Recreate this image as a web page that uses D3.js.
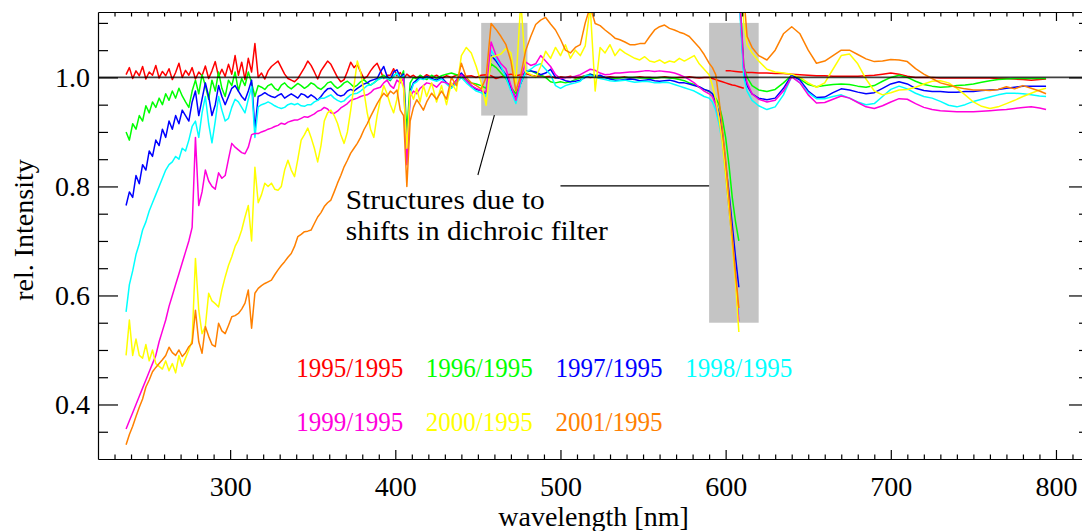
<!DOCTYPE html>
<html>
<head>
<meta charset="utf-8">
<script src="https://cdn.jsdelivr.net/npm/d3@7"></script>
<style>
  html, body { margin: 0; padding: 0; background: #fff; }
  svg { display: block; }
  text { font-family: "Liberation Serif", "Times New Roman", Times, serif; }
</style>
</head>
<body>
<svg id="chart" width="1082" height="531"></svg>
<script>
// Wavelength sampling (nm) for the UV/visible channel, up to the filter edge
const wavelengthA = [
  237,239,241,243,245,247,249,251,253,255,
  257,259,261,263,265,267,269,271,273,275,
  277,279,281,283,285,287,289,291,293,295,
  297,299,301,303,305,307,309,311,313,315,
  317,319,321,323,325,327,329,331,333,335,
  337,339,341,343,345,347,349,351,353,355,
  357,359,361,363,365,367,369,371,373,375,
  377,379,381,383,385,387,389,391,393,395,
  397,399,401,403,405,407,409,411,413,415,
  417,419,422,425,428,431,434,437,440,443,
  446,449,452,455,458,461,464,467,470,473,
  476,479,482,485,488,491,494,497,500,503,
  506,509,512,515,518,521,524,527,530,533,
  536,539,542,545,548,551,554,557,560,563,
  566,569,572,575,578,581,584,587,590,592,
  594,596,598,600,602,604,606,608,611
];

// Wavelength sampling (nm) for the red channel, beyond the dichroic filter
const wavelengthB = [
  600,603,606,609,611,613,616,620,
  625,630,635,640,645,650,655,660,665,670,
  675,680,685,690,695,700,705,710,715,720,
  725,730,735,740,745,750,755,760,765,770,
  775,780,785,790,794
];

// Ratio 1995/1995
const ratio1995A = [
  1.005,1.018,0.998,1.012,1.003,1.020,0.997,1.010,1.004,1.022,
  0.999,1.011,1.003,1.016,0.996,1.009,1.026,1.000,1.013,1.004,
  1.018,0.997,1.010,1.003,1.021,0.998,1.012,1.029,1.001,1.015,
  1.002,1.024,1.006,1.040,1.004,1.028,0.996,1.035,1.010,1.062,
  1.000,1.008,0.997,1.012,1.020,1.025,1.030,1.018,1.006,0.998,
  0.995,0.992,0.998,1.008,1.018,1.030,1.022,1.010,0.997,1.012,
  1.021,1.030,1.024,1.012,1.000,0.992,0.996,1.011,1.028,1.018,
  1.024,1.010,0.998,1.002,1.012,1.020,1.026,1.012,0.998,1.004,
  1.004,1.016,1.003,1.009,0.998,1.006,1.001,1.004,0.999,1.003,
  1.000,1.005,1.000,1.004,0.998,1.003,1.000,1.004,1.006,1.002,
  1.003,1.000,1.004,1.005,1.003,0.998,1.001,1.004,1.006,1.003,
  1.005,1.007,1.004,1.002,1.003,1.001,1.002,0.999,1.001,1.000,
  1.002,0.999,1.001,1.003,1.000,1.001,0.999,1.000,1.001,1.000,
  1.000,1.001,0.999,1.000,1.001,1.000,1.000,0.999,1.000,1.001,
  1.000,0.999,1.000,1.000,1.001,1.000,0.999,1.000,1.000,0.998,
  0.996,0.994,0.992,0.990,0.988,0.986,0.985,0.983,0.980
];
const ratio1995B = [
  1.012,1.012,1.011,1.010,1.010,1.009,1.009,1.008,
  1.008,1.007,1.007,1.006,1.005,1.004,1.003,1.003,1.002,1.002,
  1.002,1.002,1.003,1.004,1.006,1.008,1.006,1.002,1.000,1.000,
  1.000,0.999,0.999,0.999,0.999,0.999,0.999,0.999,0.998,0.998,
  0.997,0.996,0.995,0.996,0.997
];

// Ratio 1996/1995
const ratio1996A = [
  0.900,0.885,0.915,0.905,0.930,0.920,0.948,0.935,0.955,0.945,
  0.962,0.950,0.970,0.958,0.975,0.962,0.980,0.966,0.955,0.945,
  0.975,0.995,0.970,1.005,0.985,0.960,0.995,0.975,1.010,0.980,
  0.965,0.995,0.985,1.010,0.975,0.998,0.985,1.010,0.990,0.965,
  0.985,0.982,0.978,0.985,0.988,0.980,0.976,0.986,0.990,0.983,
  0.979,0.984,0.989,0.985,0.980,0.984,0.990,0.987,0.981,0.978,
  0.983,0.990,0.992,0.985,0.980,0.984,0.990,0.993,0.988,0.982,
  0.986,0.992,0.996,0.990,0.986,0.990,0.995,1.000,1.004,0.998,
  0.994,1.003,1.008,0.997,1.012,0.900,0.990,1.000,0.997,1.004,
  1.000,0.996,1.004,0.998,1.003,1.006,1.008,1.005,1.000,0.995,
  0.990,0.988,0.985,0.980,1.025,1.018,1.008,0.998,0.982,0.970,
  0.990,1.010,1.012,1.008,1.004,1.000,0.992,0.990,0.992,0.990,
  0.992,0.996,0.999,1.003,1.006,1.004,1.002,1.000,0.998,0.998,
  0.999,1.000,1.000,1.000,0.999,0.999,0.998,0.999,1.000,1.000,
  0.999,0.998,0.996,0.994,0.990,0.987,0.982,0.978,0.974,0.970,
  0.962,0.950,0.925,0.890,0.840,0.780,0.735,0.700,null
];
const ratio1996B = [
  null,null,1.420,1.130,1.020,1.000,0.985,0.977,
  0.974,0.978,0.990,1.004,0.997,0.987,0.983,0.985,0.987,0.988,
  0.987,0.984,0.982,0.985,0.993,1.000,1.004,1.000,0.993,0.987,
  0.984,0.982,0.983,0.985,0.986,0.988,0.991,0.994,0.996,0.997,
  0.998,0.998,0.998,0.998,0.998
];

// Ratio 1997/1995
const ratio1997A = [
  0.765,0.790,0.780,0.820,0.805,0.840,0.830,0.865,0.855,0.885,
  0.875,0.905,0.890,0.920,0.905,0.930,0.915,0.940,0.930,0.920,
  0.955,0.975,0.930,0.960,0.990,0.965,0.930,0.950,0.985,0.965,
  0.950,0.965,0.980,0.985,0.975,0.965,0.958,0.975,0.995,0.905,
  0.965,0.968,0.972,0.968,0.965,0.963,0.967,0.970,0.962,0.966,
  0.970,0.966,0.962,0.970,0.968,0.963,0.968,0.964,0.958,0.965,
  0.973,0.979,0.980,0.974,0.968,0.966,0.968,0.975,0.978,0.975,
  0.980,0.984,0.988,0.990,0.994,0.996,0.998,1.010,1.020,1.002,
  0.996,1.010,1.014,1.000,1.006,0.860,0.975,0.990,0.995,1.000,
  0.997,1.002,0.998,0.995,1.000,0.990,0.983,0.995,1.008,0.995,
  0.985,0.978,0.976,0.970,1.040,1.030,1.017,1.005,0.980,0.962,
  0.990,1.012,1.012,1.010,1.005,1.008,1.015,1.000,0.998,0.994,
  0.992,0.993,0.995,1.000,1.006,1.002,1.004,1.000,0.997,0.995,
  0.995,0.996,0.997,0.996,0.994,0.995,0.996,0.994,0.993,0.994,
  0.995,0.993,0.990,0.990,0.988,0.985,0.983,0.978,0.975,0.970,
  0.955,0.935,0.900,0.840,0.790,0.730,0.670,0.615,null
];
const ratio1997B = [
  null,null,1.380,1.110,1.010,0.985,0.970,0.962,
  0.959,0.962,0.980,1.004,0.995,0.975,0.963,0.964,0.972,0.979,
  0.977,0.973,0.970,0.972,0.980,0.988,0.992,0.988,0.980,0.976,
  0.974,0.974,0.973,0.973,0.974,0.974,0.976,0.977,0.978,0.980,
  0.982,0.984,0.984,0.984,0.984
];

// Ratio 1998/1995
const ratio1998A = [
  0.570,0.620,0.645,0.675,0.695,0.720,0.735,0.755,0.770,0.785,
  0.800,0.815,0.830,0.840,0.845,0.855,0.850,0.870,0.865,0.885,
  0.910,0.920,0.890,0.935,0.965,0.915,0.880,0.920,0.965,0.940,
  0.920,0.925,0.945,0.960,0.955,0.945,0.935,0.960,0.983,0.890,
  0.946,0.950,0.952,0.955,0.952,0.948,0.945,0.943,0.945,0.950,
  0.952,0.950,0.952,0.948,0.947,0.950,0.950,0.955,0.958,0.962,
  0.962,0.965,0.968,0.962,0.958,0.955,0.957,0.963,0.968,0.970,
  0.971,0.975,0.980,0.985,0.986,0.990,0.995,0.998,1.000,0.998,
  0.996,1.002,1.008,0.998,1.003,0.845,0.970,0.988,0.992,0.998,
  0.996,1.000,0.996,0.993,0.997,0.988,0.980,0.990,1.000,0.990,
  0.982,0.975,0.972,0.965,1.050,1.035,1.020,1.000,0.975,0.952,
  0.990,1.010,1.015,1.022,1.025,1.015,1.005,0.985,0.980,0.985,
  0.988,0.990,0.993,1.003,1.004,1.000,0.998,0.996,0.994,0.993,
  0.994,0.995,0.993,0.991,0.992,0.993,0.992,0.990,0.990,0.991,
  0.990,0.987,0.984,0.981,0.978,0.975,0.970,0.965,0.962,0.955,
  0.940,0.915,0.880,0.820,0.760,0.700,0.635,0.565,null
];
const ratio1998B = [
  null,null,1.350,1.100,1.000,0.975,0.958,0.948,
  0.941,0.946,0.968,1.002,0.990,0.972,0.961,0.961,0.965,0.968,
  0.962,0.955,0.950,0.952,0.965,0.978,0.984,0.979,0.971,0.965,
  0.962,0.956,0.949,0.946,0.950,0.956,0.960,0.964,0.968,0.971,
  0.971,0.970,0.968,0.966,0.965
];

// Ratio 1999/1995
const ratio1999A = [
  0.355,0.370,0.385,0.400,0.415,0.430,0.445,0.460,0.475,0.490,
  0.515,0.535,0.555,0.580,0.600,0.620,0.640,0.660,0.680,0.700,
  0.725,0.890,0.765,0.790,0.830,0.810,0.800,0.795,0.825,0.815,
  0.820,0.850,0.879,0.872,0.867,0.862,0.860,0.872,0.895,0.897,
  0.897,0.900,0.902,0.905,0.907,0.910,0.912,0.916,0.914,0.918,
  0.920,0.922,0.922,0.925,0.928,0.927,0.930,0.933,0.938,0.940,
  0.945,0.942,0.935,0.934,0.938,0.944,0.948,0.952,0.958,0.960,
  0.962,0.965,0.967,0.968,0.972,0.978,0.980,0.982,0.990,0.995,
  0.985,0.980,0.995,0.990,0.998,0.840,0.965,0.975,0.970,0.980,
  0.985,0.990,0.988,0.982,0.992,0.990,0.985,0.995,1.005,0.995,
  0.985,0.980,0.976,0.973,1.065,1.040,1.025,1.016,0.985,0.958,
  0.998,1.028,1.022,1.025,1.040,1.030,1.020,1.005,0.998,1.000,
  1.000,1.002,1.005,1.010,1.015,1.013,1.008,1.005,1.006,1.008,
  1.008,1.009,1.010,1.010,1.011,1.012,1.012,1.011,1.012,1.011,
  1.010,1.008,1.005,1.001,0.996,0.990,0.982,0.975,0.970,0.965,
  0.950,0.925,0.885,0.825,0.760,0.700,0.635,0.552,null
];
const ratio1999B = [
  null,null,1.400,1.120,1.020,0.990,0.970,0.960,
  0.955,0.958,0.975,1.001,0.990,0.968,0.953,0.954,0.960,0.966,
  0.962,0.954,0.946,0.943,0.948,0.955,0.961,0.960,0.952,0.945,
  0.941,0.939,0.938,0.937,0.937,0.937,0.938,0.939,0.940,0.941,
  0.943,0.945,0.946,0.944,0.941
];

// Ratio 2000/1995
const ratio2000A = [
  0.490,0.555,0.490,0.520,0.490,0.485,0.510,0.480,0.500,0.475,
  0.470,0.465,0.480,0.462,0.475,0.458,0.490,0.470,0.485,0.500,
  0.518,0.668,0.573,0.530,0.543,0.604,0.590,0.585,0.579,0.610,
  0.634,0.655,0.671,0.690,0.702,0.720,0.744,0.765,0.700,0.835,
  0.770,0.785,0.806,0.800,0.806,0.795,0.793,0.800,0.830,0.848,
  0.830,0.818,0.850,0.885,0.895,0.907,0.890,0.870,0.845,0.875,
  0.920,0.935,0.940,0.930,0.916,0.895,0.879,0.900,0.940,0.985,
  1.030,1.010,0.975,0.935,0.905,0.890,0.930,0.960,0.985,0.970,
  0.950,0.935,0.960,1.000,0.980,0.870,0.975,0.960,0.980,0.955,
  0.985,0.965,0.990,0.955,0.985,0.950,0.990,0.975,1.040,1.055,
  1.045,1.020,0.990,0.949,1.037,1.040,1.043,1.053,1.045,0.988,
  1.140,1.010,1.005,1.000,1.020,1.048,1.035,1.055,1.040,1.060,
  1.035,1.050,1.040,1.058,1.130,0.975,1.055,1.045,1.060,1.040,
  1.052,1.045,1.040,1.035,1.032,1.038,1.030,1.028,1.032,1.026,
  1.030,1.028,1.035,1.030,1.035,1.040,1.025,1.015,1.005,0.985,
  0.960,0.925,0.880,0.820,0.760,0.695,0.625,0.533,null
];
const ratio2000B = [
  null,null,1.600,1.200,1.100,1.060,1.045,1.030,
  1.015,1.010,1.008,1.006,1.000,0.990,0.982,0.990,1.015,1.040,
  1.043,1.025,0.997,0.975,0.968,0.972,0.977,0.978,0.982,0.988,
  0.993,0.994,0.990,0.980,0.968,0.955,0.947,0.943,0.946,0.952,
  0.958,0.965,0.971,0.977,0.980
];

// Ratio 2001/1995
const ratio2001A = [
  0.326,0.345,0.360,0.378,0.395,0.410,0.432,0.445,0.460,0.468,
  0.475,0.482,0.490,0.505,0.495,0.490,0.500,0.488,0.495,0.506,
  0.512,0.573,0.515,0.494,0.543,0.525,0.510,0.506,0.549,0.535,
  0.530,0.545,0.561,0.563,0.567,0.575,0.586,0.610,0.540,0.604,
  0.613,0.618,0.622,0.625,0.628,0.638,0.647,0.655,0.662,0.670,
  0.677,0.690,0.708,0.712,0.717,0.718,0.720,0.732,0.744,0.752,
  0.763,0.770,0.775,0.790,0.806,0.820,0.836,0.848,0.861,0.870,
  0.879,0.890,0.904,0.915,0.928,0.940,0.952,0.962,0.971,0.965,
  0.975,0.970,0.977,0.940,0.930,0.800,0.920,0.945,0.959,0.950,
  0.940,0.955,0.971,0.960,0.975,0.960,1.000,0.985,1.026,1.000,
  0.990,0.985,0.979,1.000,1.099,1.088,1.075,1.060,1.030,0.975,
  1.005,1.050,1.075,1.097,1.105,1.110,1.098,1.087,1.070,1.050,
  1.045,1.055,1.060,1.100,1.130,1.099,1.095,1.087,1.080,1.072,
  1.069,1.065,1.060,1.060,1.062,1.062,1.075,1.087,1.093,1.096,
  1.090,1.087,1.083,1.080,1.075,1.065,1.055,1.042,1.026,1.018,
  1.005,0.960,0.905,0.850,0.780,0.710,0.640,0.577,null
];
const ratio2001B = [
  null,null,1.700,1.300,1.150,1.075,1.055,1.040,
  1.032,1.050,1.080,1.093,1.080,1.050,1.026,1.030,1.040,1.050,
  1.050,1.042,1.034,1.029,1.030,1.033,1.032,1.029,1.016,1.006,
  0.998,0.990,0.986,0.982,0.979,0.977,0.977,0.976,0.978,0.983,
  0.979,0.985,0.980,0.975,0.970
];

const seriesLabels = ["1995/1995", "1996/1995", "1997/1995", "1998/1995",
                      "1999/1995", "2000/1995", "2001/1995"];
const seriesColors = ["#ff0000", "#00ff00", "#0000ff", "#00ffff",
                      "#ff00dc", "#ffff00", "#ff8000"];
const seriesA = [ratio1995A, ratio1996A, ratio1997A, ratio1998A, ratio1999A, ratio2000A, ratio2001A];
const seriesB = [ratio1995B, ratio1996B, ratio1997B, ratio1998B, ratio1999B, ratio2000B, ratio2001B];

const xTickValues = [300, 400, 500, 600, 700, 800];
const yTickValues = [0.4, 0.6, 0.8, 1.0];

// Spectral ranges affected by the dichroic filter shift: [nm0, nm1, rel0, rel1]
const filterBands = [[452, 480, 0.93, 1.10], [590, 620, 0.55, 1.10]];

// ---------- layout ----------
const plot = { left: 98, right: 1089, top: 12, bottom: 459 };
const serif = '"Liberation Serif", "Times New Roman", Times, serif';

const svg = d3.select("#chart");
const x = d3.scaleLinear().domain([220, 820]).range([plot.left, plot.right]);
const y = d3.scaleLinear().domain([0.30, 1.12]).range([plot.bottom, plot.top]);

svg.append("defs").append("clipPath").attr("id", "plotClip")
  .append("rect")
  .attr("x", plot.left).attr("y", plot.top)
  .attr("width", plot.right - plot.left).attr("height", plot.bottom - plot.top);

const dataLayer = svg.append("g").attr("clip-path", "url(#plotClip)");

// shaded filter bands
dataLayer.selectAll("rect.band").data(filterBands).join("rect")
  .attr("class", "band")
  .attr("x", d => x(d[0])).attr("width", d => x(d[1]) - x(d[0]))
  .attr("y", d => y(d[3])).attr("height", d => y(d[2]) - y(d[3]))
  .attr("fill", "#c4c4c4");

// ratio curves
const line = d3.line()
  .defined(d => d[1] != null)
  .x(d => x(d[0]))
  .y(d => y(d[1]));

seriesLabels.forEach((label, i) => {
  [d3.zip(wavelengthA, seriesA[i]), d3.zip(wavelengthB, seriesB[i])].forEach(pts => {
    dataLayer.append("path")
      .datum(pts)
      .attr("d", line)
      .attr("fill", "none")
      .attr("stroke", seriesColors[i])
      .attr("stroke-width", 1.5)
      .attr("stroke-linejoin", "round");
  });
});

// unity reference line
dataLayer.append("line")
  .attr("x1", plot.left).attr("x2", plot.right)
  .attr("y1", y(1.0)).attr("y2", y(1.0))
  .attr("stroke", "#000").attr("stroke-opacity", 0.75).attr("stroke-width", 1.8);

// ---------- axes ----------
const minorX = d3.range(230, 821, 10).filter(v => v % 100 !== 0);
const minorY = [0.35, 0.45, 0.5, 0.55, 0.65, 0.7, 0.75, 0.85, 0.9, 0.95, 1.05, 1.1];

function styleAxis(g) {
  g.attr("font-family", serif).attr("font-size", 28).attr("color", "#000");
  g.selectAll("line, path").attr("stroke-width", 1.2);
}

// bottom
const gB = svg.append("g").attr("transform", `translate(0,${plot.bottom})`)
  .call(d3.axisBottom(x).tickValues(xTickValues).tickSizeInner(-9).tickSizeOuter(0)
        .tickFormat(d3.format("d")));
styleAxis(gB);
gB.selectAll("text").attr("y", 37).attr("dy", null);
const gBm = svg.append("g").attr("transform", `translate(0,${plot.bottom})`)
  .call(d3.axisBottom(x).tickValues(minorX).tickSize(-4.5).tickFormat(""));
gBm.select(".domain").remove(); styleAxis(gBm);

// top
const gT = svg.append("g").attr("transform", `translate(0,${plot.top})`)
  .call(d3.axisTop(x).tickValues(xTickValues).tickSizeInner(-9).tickSizeOuter(0).tickFormat(""));
styleAxis(gT);
const gTm = svg.append("g").attr("transform", `translate(0,${plot.top})`)
  .call(d3.axisTop(x).tickValues(minorX).tickSize(-4.5).tickFormat(""));
gTm.select(".domain").remove(); styleAxis(gTm);

// left
const gL = svg.append("g").attr("transform", `translate(${plot.left},0)`)
  .call(d3.axisLeft(y).tickValues(yTickValues).tickSizeInner(-20).tickSizeOuter(0)
        .tickPadding(8).tickFormat(d3.format(".1f")));
styleAxis(gL);
gL.selectAll("text").attr("dy", "0.33em");
const gLm = svg.append("g").attr("transform", `translate(${plot.left},0)`)
  .call(d3.axisLeft(y).tickValues(minorY).tickSize(-10).tickFormat(""));
gLm.select(".domain").remove(); styleAxis(gLm);

// right
const gR = svg.append("g").attr("transform", `translate(${plot.right},0)`)
  .call(d3.axisRight(y).tickValues(yTickValues).tickSizeInner(-20).tickSizeOuter(0).tickFormat(""));
styleAxis(gR);
const gRm = svg.append("g").attr("transform", `translate(${plot.right},0)`)
  .call(d3.axisRight(y).tickValues(minorY).tickSize(-10).tickFormat(""));
gRm.select(".domain").remove(); styleAxis(gRm);

// axis titles
svg.append("text")
  .attr("x", (plot.left + plot.right) / 2).attr("y", 526)
  .attr("text-anchor", "middle").attr("font-size", 28).attr("font-family", serif)
  .text("wavelength [nm]");
svg.append("text")
  .attr("transform", "translate(33,230) rotate(-90)")
  .attr("text-anchor", "middle").attr("font-size", 28).attr("font-family", serif)
  .text("rel. Intensity");

// ---------- legend ----------
const legendPos = [[340, 0.450], [418.5, 0.450], [497, 0.450], [575.5, 0.450],
                   [340, 0.352], [418.5, 0.352], [497, 0.352]];
svg.append("g").selectAll("text").data(seriesLabels).join("text")
  .attr("x", (d, i) => x(legendPos[i][0]))
  .attr("y", (d, i) => y(legendPos[i][1]))
  .attr("font-size", 28).attr("font-family", serif)
  .attr("textLength", 107).attr("lengthAdjust", "spacingAndGlyphs")
  .attr("fill", (d, i) => seriesColors[i])
  .text(d => d);

// ---------- annotation ----------
const note = svg.append("g").attr("font-family", serif).attr("font-size", 28);
note.append("text").attr("x", x(370)).attr("y", y(0.7586))
  .attr("textLength", 199).attr("lengthAdjust", "spacingAndGlyphs")
  .text("Structures due to");
note.append("text").attr("x", x(370)).attr("y", y(0.7017))
  .attr("textLength", 262).attr("lengthAdjust", "spacingAndGlyphs")
  .text("shifts in dichroic filter");
note.append("line")
  .attr("x1", x(460)).attr("y1", y(0.931)).attr("x2", x(450)).attr("y2", y(0.821))
  .attr("stroke", "#000").attr("stroke-width", 1.1);
note.append("line")
  .attr("x1", x(500)).attr("y1", y(0.801)).attr("x2", x(590)).attr("y2", y(0.801))
  .attr("stroke", "#000").attr("stroke-width", 1.1);
</script>
</body>
</html>
